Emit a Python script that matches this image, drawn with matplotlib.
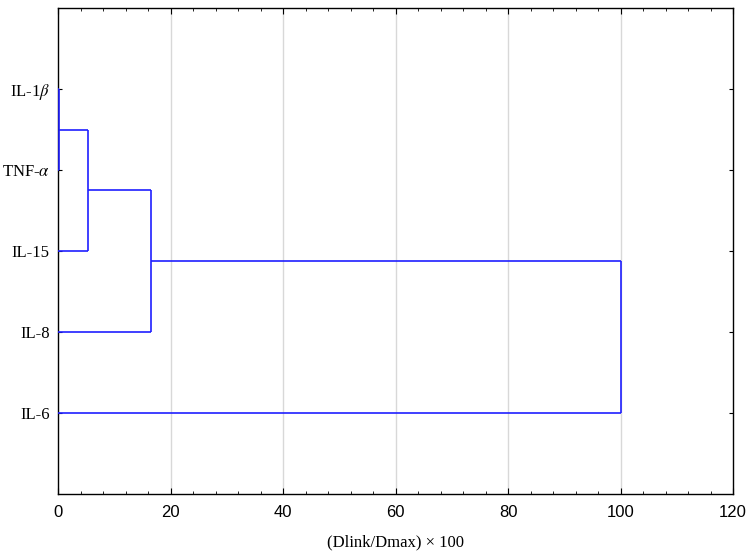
import matplotlib
matplotlib.use("Agg")
import matplotlib.pyplot as plt
from matplotlib.ticker import MultipleLocator

plt.rcParams["mathtext.fontset"] = "stix"

leaves = ["IL-1$\\beta$", "TNF-$\\alpha$", "IL-15", "IL-8", "IL-6"]
leaf_pos = [5, 4, 3, 2, 1]
# merges: (left node, right node, distance)
merges = [(0, 1, 0.2),
          ("m1", 2, 5.4),
          ("m2", 3, 16.5),
          ("m3", 4, 100.0)]
xlabel = "(Dlink/Dmax) × 100"
xticks = [0, 20, 40, 60, 80, 100, 120]

fig = plt.figure(figsize=(7.49, 5.54), dpi=100)
ax = fig.add_axes([58/749, 60/554, 675/749, 486/554])

color = "#1f1fff"
node_y = {i: p for i, p in enumerate(leaf_pos)}
node_x = {i: 0.0 for i in range(len(leaves))}
for i, (a, b, d) in enumerate(merges, start=1):
    ya, yb = node_y[a], node_y[b]
    ax.plot([node_x[a], d], [ya, ya], color=color, lw=1.2, solid_capstyle="butt", zorder=3)
    ax.plot([node_x[b], d], [yb, yb], color=color, lw=1.2, solid_capstyle="butt", zorder=3)
    ax.plot([d, d], [ya, yb], color=color, lw=1.2, solid_capstyle="butt", zorder=3)
    name = f"m{i}"
    node_y[name] = (ya + yb) / 2
    node_x[name] = d

ax.set_xlim(0, 120)
ax.set_ylim(0, 6)
ax.set_xticks(xticks)
ax.xaxis.set_minor_locator(MultipleLocator(4))
ax.set_yticks(leaf_pos)
ax.set_yticklabels(leaves, fontfamily="Liberation Serif", fontsize=12)
ax.tick_params(axis="x", which="both", direction="in", top=True, labelsize=12, pad=8)
ax.tick_params(axis="x", which="major", length=4)
ax.tick_params(axis="x", which="minor", length=2.5)
ax.tick_params(axis="y", direction="in", right=True, length=3, pad=6)
for lbl in ax.get_xticklabels():
    lbl.set_fontfamily("Liberation Sans")
for v in [20, 40, 60, 80, 100]:
    ax.axvline(v, color="#d8d8d8", lw=1, zorder=1)
ax.set_xlabel(xlabel, fontfamily="Liberation Serif", fontsize=12, labelpad=10)
for s in ax.spines.values():
    s.set_linewidth(1.0)

fig.savefig("out.png", dpi=100)
